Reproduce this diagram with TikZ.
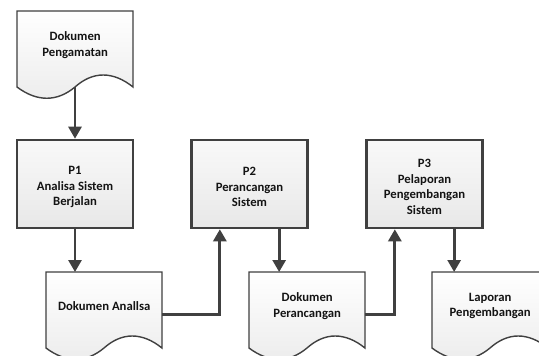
\documentclass[tikz,border=0pt]{standalone}
\usepackage{fontspec}
\setmainfont{Carlito}
\usetikzlibrary{arrows.meta,calc}
\definecolor{edge}{HTML}{404040}
\definecolor{txt}{HTML}{141414}
\tikzset{
  procbox/.style={draw=edge, line width=2.6pt, top color=gray!5, bottom color=gray!18,
    minimum width=116pt, minimum height=88pt, inner sep=0pt},
  docframe/.style={minimum width=116pt, minimum height=76pt, inner sep=0pt, anchor=north west},
  doctext/.style={align=center, text=txt, font=\fontsize{12.7}{15.5}\selectfont\bfseries},
  docpath/.style={draw=edge, line width=1.4pt, top color=white, bottom color=gray!15},
  conn/.style={draw=edge, line width=2.8pt, -{Triangle[width=13pt,length=12pt]}},
}
\newcommand\docshape[4]{%
  \node[docframe] (#1) at (#2,#3) {};
  \begin{scope}[shift={(#2,#3)}]
    \path[docpath] (0,0) -- (116,0) -- (116,76)
      .. controls (96,60) and (76,60) .. (58,76)
      .. controls (40,91) and (20,91) .. (0,76) -- cycle;
  \end{scope}
  \node[doctext] (#1t) at ([yshift=4pt]#1.center) {#4};
}
\newcommand\procshape[4]{%
  \node[procbox] (#1) at (#2,#3) {};
  \node[doctext] (#1t) at ([yshift=-3pt]#1.center) {#4};
}
\begin{document}
\begin{tikzpicture}[x=1pt,y=-1pt]
  \fill[white] (0,0) rectangle (539,356);
  \clip (0,0) rectangle (539,356);
  \useasboundingbox (0,0) rectangle (539,356);

  \docshape{d1}{17}{11}{Dokumen\\Pengamatan}
  \docshape{d2}{46}{272}{Dokumen Anallsa}
  \docshape{d3}{249}{272}{Dokumen\\Perancangan}
  \docshape{d4}{432}{272}{Laporan\\Pengembangan}

  \procshape{p1}{75}{184}{P1\\Analisa Sistem\\Berjalan}
  \procshape{p2}{249.5}{184}{P2\\Perancangan\\Sistem}
  \procshape{p3}{424.5}{184}{P3\\Pelaporan\\Pengembangan\\Sistem}

  \coordinate (p2in) at ($(p2.south west)!0.25!(p2.south east)$);
  \coordinate (p2out) at ($(p2.south west)!0.75!(p2.south east)$);
  \coordinate (p3in) at ($(p3.south west)!0.25!(p3.south east)$);
  \coordinate (p3out) at ($(p3.south west)!0.75!(p3.south east)$);

  \draw[conn] (d1.south -| p1.north) -- (p1.north);
  \draw[conn] (p1.south) -- (p1.south |- d2.north);
  \draw[conn] ([yshift=-4pt]d2.east) -| (p2in);
  \draw[conn] (p2out) -- (p2out |- d3.north);
  \draw[conn] ([yshift=-4pt]d3.east) -| (p3in);
  \draw[conn] (p3out) -- (p3out |- d4.north);
\end{tikzpicture}
\end{document}
